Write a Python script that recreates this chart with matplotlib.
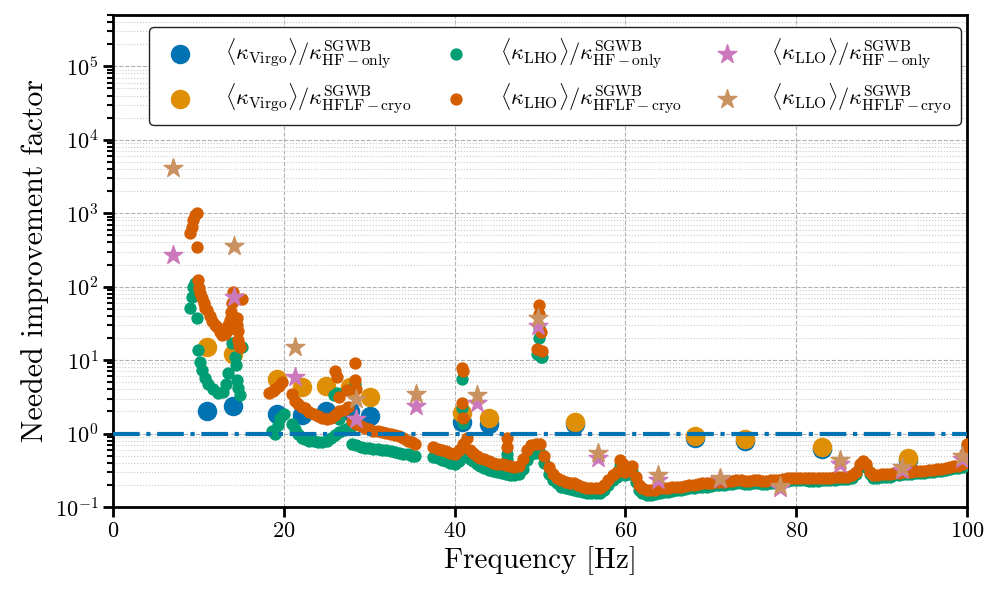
import matplotlib
matplotlib.use("Agg")
import matplotlib.pyplot as plt
import numpy as np

plt.rcParams['font.family'] = 'serif'
plt.rcParams['font.serif'] = ['cmr10']
plt.rcParams['mathtext.fontset'] = 'cm'
plt.rcParams['axes.formatter.use_mathtext'] = True

# colorblind palette
C_BLUE, C_ORANGE, C_GREEN, C_RED, C_PINK, C_BROWN = (
    '#0173b2', '#de8f05', '#029e73', '#d55e00', '#cc78bc', '#ca9161')

# ### Virgo (big circles)
virgo_f = [11.0, 14.0, 19.2, 22.1, 24.9, 27.8, 30.1, 40.9, 44.0, 54.1, 68.1, 74.0, 83.0, 93.1]
virgo_hf = [2.0, 2.4, 1.85, 1.8, 2.0, 2.0, 1.75, 1.45, 1.35, 1.33, 0.88, 0.78, 0.62, 0.43]
virgo_hflf = [15.0, 12.0, 5.6, 4.3, 4.4, 4.3, 3.1, 1.9, 1.65, 1.45, 0.94, 0.85, 0.66, 0.46]

# ### LLO (stars)
llo_f = [7.0, 14.2, 21.3, 28.5, 35.5, 42.6, 49.8, 56.8, 63.8, 71.1, 78.1, 85.1, 92.4, 99.4]
llo_hf = [270, 72, 5.8, 1.6, 2.4, 2.6, 29, 0.46, 0.23, 0.24, 0.18, 0.39, 0.32, 0.45]
llo_hflf = [4100, 355, 15, 3.0, 3.5, 3.4, 38, 0.55, 0.27, 0.25, 0.195, 0.43, 0.355, 0.5]

# ### LHO HF-only (dense dots)
lho_hf_f = [
    9.0, 9.25, 9.4, 9.6, 9.8, 9.95, 10.2, 10.4, 10.8, 11.1, 11.7, 12.3, 12.9, 13.2, 13.5,
    13.9, 14.3, 14.4, 14.5, 14.6, 14.9, 15.1,
    18.6, 19.0, 19.3, 19.6, 20.0, 21.0, 21.3, 21.7, 22.1, 22.5, 23.0, 23.5, 24.0, 24.5,
    25.0, 25.5, 26.0, 26.5, 27.0, 27.5, 28.0, 25.9, 26.2, 26.5, 28.3,
    28.0, 28.5, 29.0, 29.5, 30.0, 30.5, 31.0, 31.5, 32.0, 32.5, 33.0, 33.5, 34.0, 34.5, 35.0, 35.4,
    37.5, 38.0, 38.5, 39.0, 39.5, 40.0, 40.5, 41.0, 41.4, 41.8, 42.2, 42.6, 43.0, 43.5, 44.0,
    44.5, 45.0, 45.5, 46.0, 46.5, 47.0, 47.5, 48.0, 48.5, 49.0, 49.5, 50.0, 50.5, 51.0, 51.5,
    52.0, 52.5, 53.0, 53.5, 54.0, 54.5, 55.0, 55.5, 56.0, 56.5, 57.0, 57.5, 58.0, 58.5, 59.0,
    59.4, 59.7, 60.0, 60.4, 60.8, 61.2, 61.6, 62.0, 62.5, 63.0, 63.5, 64.0, 64.5, 65.0, 65.5,
    66.0, 66.5, 67.0, 67.5, 68.0, 68.5, 69.0, 69.5, 70.0, 70.5, 71.0, 71.5, 72.0, 72.5, 73.0,
    73.5, 74.0, 74.5, 75.0, 75.5, 76.0, 76.5, 77.0, 77.5, 78.0, 78.5, 79.0, 79.5, 80.0, 80.5,
    81.0, 81.5, 82.0, 82.5, 83.0, 83.5, 84.0, 84.5, 85.0, 85.5, 86.0, 86.5, 87.0, 87.5, 87.8,
    88.2, 88.6, 89.0, 89.5, 90.0, 90.5, 91.0, 91.5, 92.0, 92.5, 93.0, 93.5, 94.0, 94.5, 95.0,
    95.5, 96.0, 96.5, 97.0, 97.5, 98.0, 98.5, 99.0, 99.5, 99.8, 100.0,
    40.9, 40.9, 41.0, 46.1, 46.1, 49.9, 49.9, 50.1, 49.7, 50.2]
lho_hf = [
    52, 72, 98, 112, 38, 13.6, 9.5, 7.3, 5.7, 4.8, 4.1, 3.6, 3.7, 4.8, 6.6,
    17, 11, 8.5, 5.3, 4.2, 3.3, 15,
    1.1, 1.0, 1.3, 1.65, 1.87, 1.37, 1.15, 1.0, 0.88, 0.84, 0.8, 0.78, 0.77, 0.76,
    0.8, 0.86, 0.95, 1.05, 1.12, 1.2, 1.25, 3.3, 3.6, 1.6, 4.8,
    0.73, 0.7, 0.66, 0.64, 0.63, 0.62, 0.61, 0.6, 0.59, 0.58, 0.56, 0.55, 0.53, 0.52, 0.5, 0.49,
    0.48, 0.46, 0.44, 0.42, 0.4, 0.38, 0.42, 0.5, 0.6, 0.45, 0.42, 0.38, 0.36, 0.34, 0.32,
    0.31, 0.3, 0.29, 0.28, 0.27, 0.27, 0.28, 0.33, 0.43, 0.52, 0.55, 0.55, 0.4, 0.28, 0.23,
    0.21, 0.19, 0.18, 0.175, 0.17, 0.165, 0.16, 0.155, 0.155, 0.155, 0.155, 0.17, 0.2, 0.23, 0.26,
    0.36, 0.32, 0.27, 0.28, 0.31, 0.22, 0.17, 0.155, 0.145, 0.145, 0.15, 0.155, 0.16, 0.16, 0.165,
    0.17, 0.17, 0.175, 0.18, 0.18, 0.185, 0.19, 0.19, 0.195, 0.2, 0.2, 0.2, 0.205, 0.205, 0.21,
    0.21, 0.205, 0.205, 0.21, 0.21, 0.205, 0.205, 0.21, 0.21, 0.215, 0.22, 0.225, 0.23, 0.23, 0.23,
    0.23, 0.225, 0.225, 0.225, 0.23, 0.23, 0.23, 0.235, 0.24, 0.24, 0.24, 0.25, 0.28, 0.35, 0.39,
    0.35, 0.28, 0.25, 0.25, 0.26, 0.26, 0.26, 0.27, 0.27, 0.28, 0.28, 0.28, 0.29, 0.29, 0.29,
    0.3, 0.3, 0.31, 0.31, 0.32, 0.33, 0.34, 0.34, 0.35, 0.5, 0.68,
    5.6, 2.2, 1.4, 0.53, 0.45, 28, 20, 11, 12, 11]

# ### LHO HFLF-cryo (dense dots)
lho_hflf_f = [
    9.0, 9.2, 9.4, 9.6, 9.8, 9.8, 9.95, 10.1, 10.2, 10.4, 10.6, 10.8, 11.0, 11.3, 11.6, 11.9,
    12.2, 12.5, 12.8, 13.1, 13.3, 13.5, 13.7, 13.8, 13.9, 14.0, 14.5, 14.5, 14.6, 14.6, 14.8,
    14.9, 15.1,
    18.3, 18.7, 19.0, 19.4, 19.8, 21.0, 21.3, 21.7, 22.1, 22.5, 23.0, 23.5, 24.0, 24.5, 25.0,
    25.5, 26.0, 26.5, 27.0, 27.5, 26.0, 26.2, 26.5, 27.4, 28.3, 28.3, 28.5,
    28.0, 28.5, 29.0, 29.5, 30.0, 30.5, 31.0, 31.5, 32.0, 32.5, 33.0, 33.5, 34.0, 34.5, 35.0, 35.4,
    37.5, 38.0, 38.5, 39.0, 39.5, 40.0, 40.5, 41.0, 41.4, 41.8, 42.2, 42.6, 43.0, 43.5, 44.0,
    44.5, 45.0, 45.5, 46.0, 46.5, 47.0, 47.5, 48.0, 48.5, 49.0, 49.5, 50.0, 50.5, 51.0, 51.5,
    52.0, 52.5, 53.0, 53.5, 54.0, 54.5, 55.0, 55.5, 56.0, 56.5, 57.0, 57.5, 58.0, 58.5, 59.0,
    59.4, 59.7, 60.0, 60.4, 60.8, 61.2, 61.6, 62.0, 62.5, 63.0, 63.5, 64.0, 64.5, 65.0, 65.5,
    66.0, 66.5, 67.0, 67.5, 68.0, 68.5, 69.0, 69.5, 70.0, 70.5, 71.0, 71.5, 72.0, 72.5, 73.0,
    73.5, 74.0, 74.5, 75.0, 75.5, 76.0, 76.5, 77.0, 77.5, 78.0, 78.5, 79.0, 79.5, 80.0, 80.5,
    81.0, 81.5, 82.0, 82.5, 83.0, 83.5, 84.0, 84.5, 85.0, 85.5, 86.0, 86.5, 87.0, 87.5, 87.8,
    88.2, 88.6, 89.0, 89.5, 90.0, 90.5, 91.0, 91.5, 92.0, 92.5, 93.0, 93.5, 94.0, 94.5, 95.0,
    95.5, 96.0, 96.5, 97.0, 97.5, 98.0, 98.5, 99.0, 99.5, 99.8, 100.0,
    40.9, 41.0, 40.9, 41.0, 46.1, 46.1, 49.9, 49.9, 50.1, 49.6, 50.2]
lho_hflf = [
    540, 640, 800, 950, 1020, 345, 122, 95, 81, 70, 60, 52, 48, 40, 34, 30,
    28, 24, 22, 23, 25, 30, 35, 45, 59, 85, 38, 30, 25, 19, 16,
    15, 69,
    3.6, 3.8, 4.0, 4.5, 5.0, 3.5, 2.8, 2.5, 2.3, 2.2, 1.95, 1.85, 1.75, 1.65, 1.6,
    1.65, 1.8, 2.0, 2.1, 2.3, 7.2, 5.8, 3.1, 3.9, 9.0, 5.3, 4.1,
    1.5, 1.35, 1.25, 1.2, 1.15, 1.1, 1.08, 1.05, 1.03, 1.0, 0.97, 0.92, 0.86, 0.8, 0.76, 0.73,
    0.65, 0.62, 0.6, 0.57, 0.55, 0.53, 0.6, 0.73, 0.88, 0.59, 0.55, 0.5, 0.47, 0.45, 0.42,
    0.4, 0.39, 0.38, 0.37, 0.36, 0.35, 0.36, 0.45, 0.59, 0.7, 0.73, 0.73, 0.5, 0.35, 0.28,
    0.25, 0.23, 0.22, 0.21, 0.21, 0.2, 0.19, 0.18, 0.18, 0.18, 0.18, 0.2, 0.23, 0.27, 0.3,
    0.43, 0.38, 0.3, 0.32, 0.36, 0.26, 0.2, 0.18, 0.17, 0.17, 0.17, 0.18, 0.18, 0.18, 0.185,
    0.19, 0.19, 0.195, 0.2, 0.2, 0.205, 0.21, 0.21, 0.215, 0.22, 0.22, 0.22, 0.225, 0.225, 0.23,
    0.23, 0.225, 0.225, 0.23, 0.23, 0.225, 0.225, 0.23, 0.23, 0.235, 0.24, 0.245, 0.25, 0.25, 0.25,
    0.25, 0.245, 0.245, 0.245, 0.25, 0.25, 0.25, 0.255, 0.26, 0.26, 0.26, 0.27, 0.3, 0.38, 0.42,
    0.38, 0.3, 0.27, 0.27, 0.28, 0.28, 0.28, 0.29, 0.29, 0.3, 0.3, 0.3, 0.31, 0.31, 0.31,
    0.32, 0.32, 0.33, 0.33, 0.34, 0.35, 0.36, 0.36, 0.38, 0.55, 0.73,
    7.9, 7.0, 2.6, 1.65, 0.88, 0.65, 57, 43, 24, 14, 13.5]

fig = plt.figure(figsize=(10, 6), dpi=100)
ax = fig.add_axes([0.113, 0.155, 0.854, 0.82])

ax.scatter(virgo_f, virgo_hf, s=170, color=C_BLUE, zorder=3,
           label=r'$\langle\kappa_{\rm Virgo}\rangle/\kappa^{\rm SGWB}_{\rm HF-only}$')
ax.scatter(virgo_f, virgo_hflf, s=170, color=C_ORANGE, zorder=3,
           label=r'$\langle\kappa_{\rm Virgo}\rangle/\kappa^{\rm SGWB}_{\rm HFLF-cryo}$')
ax.scatter(lho_hf_f, lho_hf, s=62, color=C_GREEN, zorder=4,
           label=r'$\langle\kappa_{\rm LHO}\rangle/\kappa^{\rm SGWB}_{\rm HF-only}$')
ax.scatter(lho_hflf_f, lho_hflf, s=62, color=C_RED, zorder=4,
           label=r'$\langle\kappa_{\rm LHO}\rangle/\kappa^{\rm SGWB}_{\rm HFLF-cryo}$')
ax.scatter(llo_f, llo_hf, s=200, marker='*', color=C_PINK, zorder=5,
           label=r'$\langle\kappa_{\rm LLO}\rangle/\kappa^{\rm SGWB}_{\rm HF-only}$')
ax.scatter(llo_f, llo_hflf, s=200, marker='*', color=C_BROWN, zorder=5,
           label=r'$\langle\kappa_{\rm LLO}\rangle/\kappa^{\rm SGWB}_{\rm HFLF-cryo}$')
ax.axhline(1.0, color=C_BLUE, ls='-.', lw=3, zorder=6)

ax.set_yscale('log')
ax.set_xlim(0, 100)
ax.set_ylim(1e-1, 5e5)
ax.set_xticks([0, 20, 40, 60, 80, 100])
ax.grid(True, which='major', ls='--', color='#b0b0b0', lw=0.8)
ax.grid(True, which='minor', axis='y', ls=':', color='#c8c8c8', lw=0.8)
ax.set_axisbelow(True)

for sp in ax.spines.values():
    sp.set_linewidth(2)
ax.tick_params(which='major', direction='out', length=7, width=2, labelsize=16)
ax.tick_params(which='minor', direction='out', length=4, width=1.5)
ax.tick_params(axis='x', which='minor', bottom=False)

ax.set_xlabel('Frequency [Hz]', fontsize=21)
ax.set_ylabel('Needed improvement factor', fontsize=21.5)

leg = ax.legend(loc='upper center', ncol=3, fontsize=16, frameon=True,
                bbox_to_anchor=(0.5175, 1.0), columnspacing=1.0, handletextpad=1.0,
                borderpad=0.4, labelspacing=0.45, borderaxespad=0.55)
leg.get_frame().set_edgecolor('#222222')
leg.get_frame().set_linewidth(1.0)
leg.get_frame().set_alpha(1.0)

fig.savefig('out.png', dpi=100)
